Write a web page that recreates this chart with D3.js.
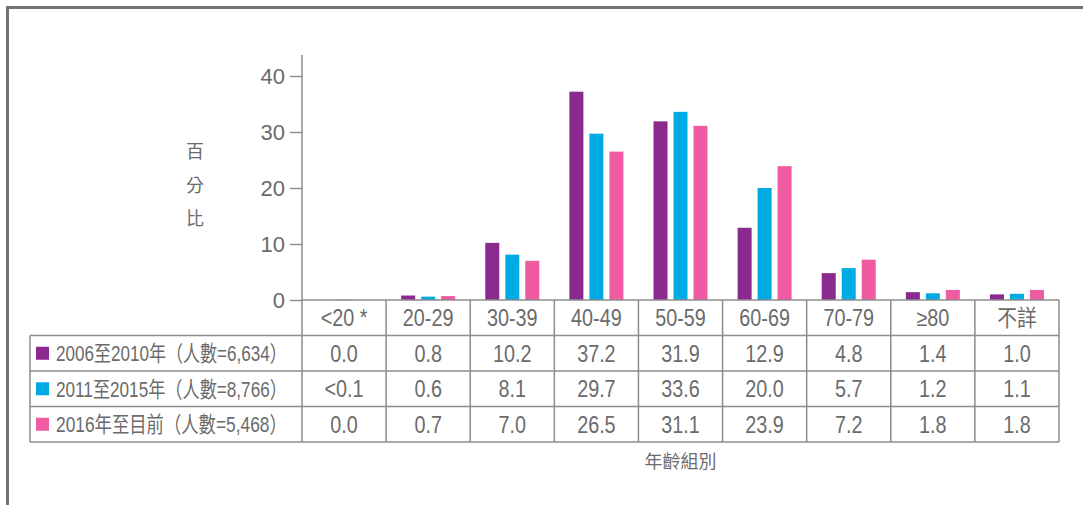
<!DOCTYPE html>
<html>
<head>
<meta charset="utf-8">
<script src="https://cdn.jsdelivr.net/npm/d3@7"></script>
<style>
  html, body { margin: 0; padding: 0; background: #fff; }
  svg { display: block; }
  .lat { font-family: "Liberation Sans", Arial, "Noto Sans CJK TC", sans-serif; }
</style>
</head>
<body>
<svg id="chart" width="1083" height="505"></svg>
<script>
// ---------- data ----------
const categories = ["<20 *", "20-29", "30-39", "40-49", "50-59", "60-69", "70-79", "≥80", "不詳"];
const seriesNames = ["2006至2010年（人數=6,634）", "2011至2015年（人數=8,766）", "2016年至目前（人數=5,468）"];
const values2006 = [0.0, 0.8, 10.2, 37.2, 31.9, 12.9, 4.8, 1.4, 1.0];
const values2011 = [0.05, 0.6, 8.1, 29.7, 33.6, 20.0, 5.7, 1.2, 1.1];
const values2016 = [0.0, 0.7, 7.0, 26.5, 31.1, 23.9, 7.2, 1.8, 1.8];
const labels2006 = ["0.0", "0.8", "10.2", "37.2", "31.9", "12.9", "4.8", "1.4", "1.0"];
const labels2011 = ["<0.1", "0.6", "8.1", "29.7", "33.6", "20.0", "5.7", "1.2", "1.1"];
const labels2016 = ["0.0", "0.7", "7.0", "26.5", "31.1", "23.9", "7.2", "1.8", "1.8"];
const colors = ["#8a2a8e", "#00aae2", "#ef5aa1"];
const yTicks = [0, 10, 20, 30, 40];
const yTitle = ["百", "分", "比"];
const xTitle = "年齡組別";

const seriesValues = [values2006, values2011, values2016];
const seriesLabels = [labels2006, labels2011, labels2016];

// ---------- layout ----------
const svg = d3.select("#chart");
const gridColor = "#8c8c8c";
const textColor = "#6b6b6b";
const squeeze = 0.86;

function condense(sel, factor) {
  sel.each(function () {
    const w = this.getComputedTextLength();
    d3.select(this).attr("textLength", w * factor).attr("lengthAdjust", "spacingAndGlyphs");
  });
}

const x = d3.scaleBand().domain(categories).range([302, 1059]).paddingInner(0).paddingOuter(0);
const bw = x.bandwidth();
const xs = d3.scaleBand().domain(d3.range(3)).range([bw / 2 - 30, bw / 2 + 30]).paddingInner(0.3).paddingOuter(0.15);
const y = d3.scaleLinear().domain([0, 40]).range([300, 76]);

// outer frame
svg.append("path")
  .attr("d", "M7.5,505 L7.5,7.5 L1083,7.5")
  .attr("fill", "none").attr("stroke", "#737373").attr("stroke-width", 3);

// bars
categories.forEach((c, i) => {
  const g = svg.append("g").attr("transform", `translate(${x(c)},0)`);
  seriesValues.forEach((vals, s) => {
    g.append("rect")
      .attr("x", xs(s)).attr("width", xs.bandwidth())
      .attr("y", y(vals[i])).attr("height", y(0) - y(vals[i]))
      .attr("fill", colors[s]);
  });
});

// y axis
const yAxis = d3.axisLeft(y).tickValues(yTicks).tickSize(12).tickPadding(5).tickSizeOuter(0);
const ya = svg.append("g").attr("transform", "translate(302,0)").call(yAxis);
ya.select(".domain").remove();
ya.selectAll(".tick line").attr("stroke", gridColor).attr("stroke-width", 1.5);
ya.selectAll(".tick text").attr("fill", textColor)
  .style("font-family", "'Liberation Sans', Arial, sans-serif").style("font-size", "22px");
svg.append("line").attr("x1", 302).attr("x2", 302).attr("y1", 55).attr("y2", y(0))
  .attr("stroke", gridColor).attr("stroke-width", 1.5);

// y title
yTitle.forEach((ch, i) => {
  svg.append("text").attr("x", 195).attr("y", 158 + i * 33.5)
    .attr("text-anchor", "middle").attr("fill", textColor)
    .style("font-family", "'Noto Sans CJK TC', sans-serif").style("font-size", "18px")
    .text(ch);
});

// table
const rowTop = y(0);
const rowH = 35.5;
const nRows = 4;
const tableBottom = rowTop + rowH * nRows;
const labelLeft = 30;
const tableRight = x.range()[1];

svg.append("line").attr("x1", 302).attr("x2", tableRight).attr("y1", rowTop).attr("y2", rowTop)
  .attr("stroke", gridColor).attr("stroke-width", 1.5);
for (let r = 1; r <= nRows; r++) {
  const yy = rowTop + r * rowH;
  svg.append("line").attr("x1", labelLeft).attr("x2", tableRight).attr("y1", yy).attr("y2", yy)
    .attr("stroke", gridColor).attr("stroke-width", 1.5);
}
categories.forEach(c => {
  svg.append("line").attr("x1", x(c)).attr("x2", x(c)).attr("y1", rowTop).attr("y2", tableBottom)
    .attr("stroke", gridColor).attr("stroke-width", 1.5);
});
svg.append("line").attr("x1", tableRight).attr("x2", tableRight).attr("y1", rowTop).attr("y2", tableBottom)
  .attr("stroke", gridColor).attr("stroke-width", 1.5);
svg.append("line").attr("x1", labelLeft).attr("x2", labelLeft).attr("y1", rowTop + rowH).attr("y2", tableBottom)
  .attr("stroke", gridColor).attr("stroke-width", 1.5);

// header
const hdr = svg.append("g").selectAll("text").data(categories).join("text")
  .attr("class", "lat")
  .attr("x", c => x(c) + bw / 2).attr("y", rowTop + rowH / 2 + 8.5)
  .attr("text-anchor", "middle").attr("fill", textColor)
  .style("font-size", "23px").text(c => c);
condense(hdr, squeeze);

// rows
const legendWidth = 231;
seriesNames.forEach((name, s) => {
  const cy = rowTop + rowH * (s + 1) + rowH / 2;
  svg.append("rect").attr("x", 36).attr("y", cy - 6.5).attr("width", 13).attr("height", 13).attr("fill", colors[s]);
  const lg = svg.append("g");
  const t = lg.append("text").attr("class", "lat")
    .attr("x", 0).attr("y", 0).attr("fill", textColor)
    .style("font-size", "22px").text(name);
  const w = t.node().getComputedTextLength();
  lg.attr("transform", `translate(56,${cy + 8}) scale(${legendWidth / w},1)`);
  const cells = svg.append("g").selectAll("text").data(seriesLabels[s]).join("text")
    .attr("class", "lat")
    .attr("x", (d, i) => x(categories[i]) + bw / 2).attr("y", cy + 8.5)
    .attr("text-anchor", "middle").attr("fill", textColor)
    .style("font-size", "23px").text(d => d);
  condense(cells, squeeze);
});

// x title
svg.append("text").attr("x", (302 + tableRight) / 2).attr("y", 468)
  .attr("text-anchor", "middle").attr("fill", textColor)
  .style("font-family", "'Noto Sans CJK TC', sans-serif").style("font-size", "18px")
  .text(xTitle);
</script>
</body>
</html>
